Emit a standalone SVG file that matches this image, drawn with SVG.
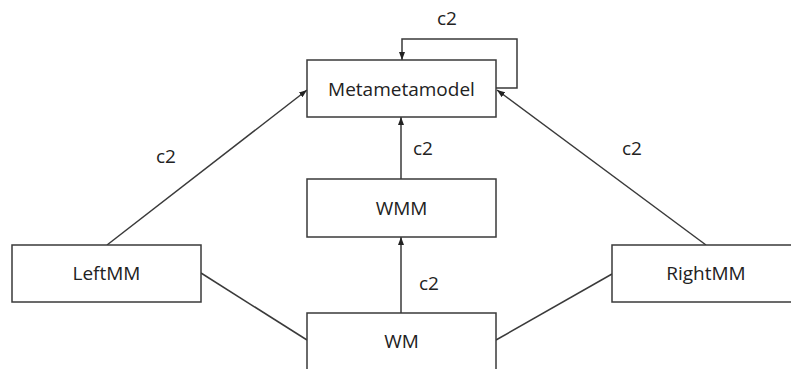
<svg xmlns="http://www.w3.org/2000/svg" width="791" height="369" viewBox="0 0 791 369">
  <style>
    .box { fill: #ffffff; stroke: #3a3a3a; stroke-width: 1.5; }
    .lbl { font-family: "Open Sans", "Liberation Sans", sans-serif; font-size: 19px; fill: #222222; text-anchor: middle; }
    .edge { fill: none; stroke: #3a3a3a; stroke-width: 1.5; }
    .arrow { marker-end: url(#head); }
  </style>
  <defs>
    <marker id="head" viewBox="0 0 8 6" refX="8" refY="3" markerWidth="8" markerHeight="6" markerUnits="userSpaceOnUse" orient="auto">
      <path d="M0,0 L8,3 L0,6 z" fill="#222222"/>
    </marker>
  </defs>
  <rect width="791" height="369" fill="#ffffff"/>

  <g id="connectors">
    <!-- self loop on Metametamodel -->
    <polyline class="edge arrow" points="496,88 517,88 517,39 402,39 402,60"/>
    <text class="lbl" x="447" y="25">c2</text>
    <!-- LeftMM to Metametamodel -->
    <line class="edge arrow" x1="107" y1="245" x2="307" y2="90"/>
    <text class="lbl" x="166" y="163">c2</text>
    <!-- RightMM to Metametamodel -->
    <line class="edge arrow" x1="706" y1="245" x2="497" y2="90"/>
    <text class="lbl" x="632" y="155">c2</text>
    <!-- WMM to Metametamodel -->
    <line class="edge arrow" x1="401" y1="179" x2="401" y2="117"/>
    <text class="lbl" x="423" y="155">c2</text>
    <!-- WM to WMM -->
    <line class="edge arrow" x1="401" y1="313" x2="401" y2="237"/>
    <text class="lbl" x="429" y="290">c2</text>
    <!-- plain links to WM -->
    <line class="edge" x1="201" y1="273" x2="307" y2="340"/>
    <line class="edge" x1="496" y1="340" x2="612" y2="274"/>
  </g>

  <g id="metametamodel">
    <rect class="box" x="307" y="60" width="189" height="57"/>
    <text class="lbl" x="401.5" y="96">Metametamodel</text>
  </g>
  <g id="wmm">
    <rect class="box" x="307" y="179" width="189" height="58"/>
    <text class="lbl" x="401.5" y="215">WMM</text>
  </g>
  <g id="wm">
    <rect class="box" x="307" y="313" width="189" height="70"/>
    <text class="lbl" x="401.5" y="348">WM</text>
  </g>
  <g id="leftmm">
    <rect class="box" x="12" y="245" width="189" height="57"/>
    <text class="lbl" x="106.5" y="280">LeftMM</text>
  </g>
  <g id="rightmm">
    <rect class="box" x="612" y="245" width="189" height="57"/>
    <text class="lbl" x="706" y="280">RightMM</text>
  </g>
</svg>
